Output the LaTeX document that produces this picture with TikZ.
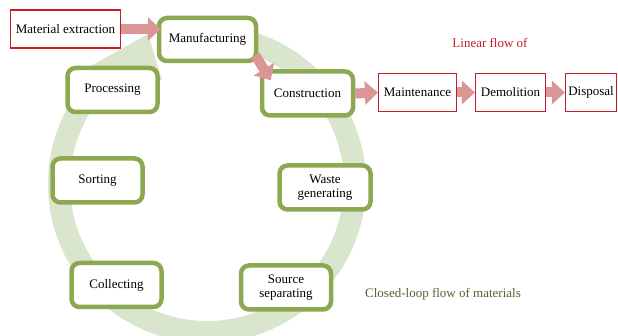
\documentclass[tikz,border=0pt]{standalone}
\usepackage{fontspec}
\setmainfont{Liberation Serif}
\usepackage{xcolor}
\usetikzlibrary{arrows.meta,calc}
\definecolor{loopgreen}{RGB}{140, 168, 80}
\definecolor{ringgreen}{RGB}{218, 229, 205}
\definecolor{linred}{RGB}{196, 30, 40}
\definecolor{flowpink}{RGB}{218, 150, 148}
\definecolor{loottext}{RGB}{80, 100, 45}

\begin{document}
\begin{tikzpicture}[
    x=1pt, y=1pt,
    loopbox/.style={draw=loopgreen, line width=4.5pt, rounded corners=8pt, fill=white, minimum width=90pt, minimum height=44pt, align=center, inner sep=1pt, font=\fontsize{13}{14}\selectfont},
    linbox/.style={draw=linred, line width=1.2pt, fill=white, minimum height=38pt, align=center, inner sep=1pt, font=\fontsize{13}{14}\selectfont},
    flow/.style={draw=flowpink, line width=10pt, -{Triangle[width=23pt, length=13pt]}, flowpink},
]
    \useasboundingbox (0,0) rectangle (618,336);
    \clip (0,0) rectangle (618,336);

    % closed loop ring and its head
    \coordinate (hub) at (207,152);
    \draw[ringgreen, line width=22pt]
        (hub) ++(80:148) arc[start angle=80, end angle=-236, radius=148];
    \fill[ringgreen] (148,302) -- (80,264) -- (162,256) -- cycle;

    \node[linbox, minimum width=110pt] (extract) at (65.5,307) {Material extraction};
    \node[loopbox, minimum width=97pt, minimum height=43pt] (manuf) at (207.5,296.5) {Manufacturing};
    \node[loopbox, minimum width=91pt] (constr) at (307.5,242.5) {Construction};
    \node[linbox, minimum width=78pt] (maint) at (417.5,243.5) {Maintenance};
    \node[linbox, minimum width=70pt] (demol) at (510.5,243.5) {Demolition};
    \node[linbox, minimum width=51pt] (disp) at (591,243.5) {Disposal};

    \node[loopbox] (proc) at (112.5,246) {Processing};
    \node[loopbox] (sort) at (97.5,155.5) {Sorting};
    \node[loopbox] (coll) at (116.5,51) {Collecting};
    \node[loopbox] (srcsep) at (286,48.5) {Source\\separating};
    \node[loopbox, minimum width=91pt] (waste) at (325,148.5) {Waste\\generating};

    \node[text=linred, font=\fontsize{13}{14}\selectfont] (lintitle) at (490,293) {Linear flow of};
    \node[text=loottext, font=\fontsize{13}{14}\selectfont] (looptitle) at (443,42) {Closed-loop flow of materials};

    \coordinate (mtip) at ($(manuf.west |- extract.east)+(4,0)$);
    \coordinate (mtail) at ($(manuf.south east)+(-3,8)$);
    \coordinate (ctip) at ($(constr.north west)+(11,-11)$);
    \draw[flow] (extract.east) -- (mtip);
    \draw[flow] (mtail) -- (ctip);
    \draw[flow] (constr.east) -- (maint.west);
    \draw[flow] (maint.east) -- (demol.west);
    \draw[flow] (demol.east) -- (disp.west);
\end{tikzpicture}
\end{document}
